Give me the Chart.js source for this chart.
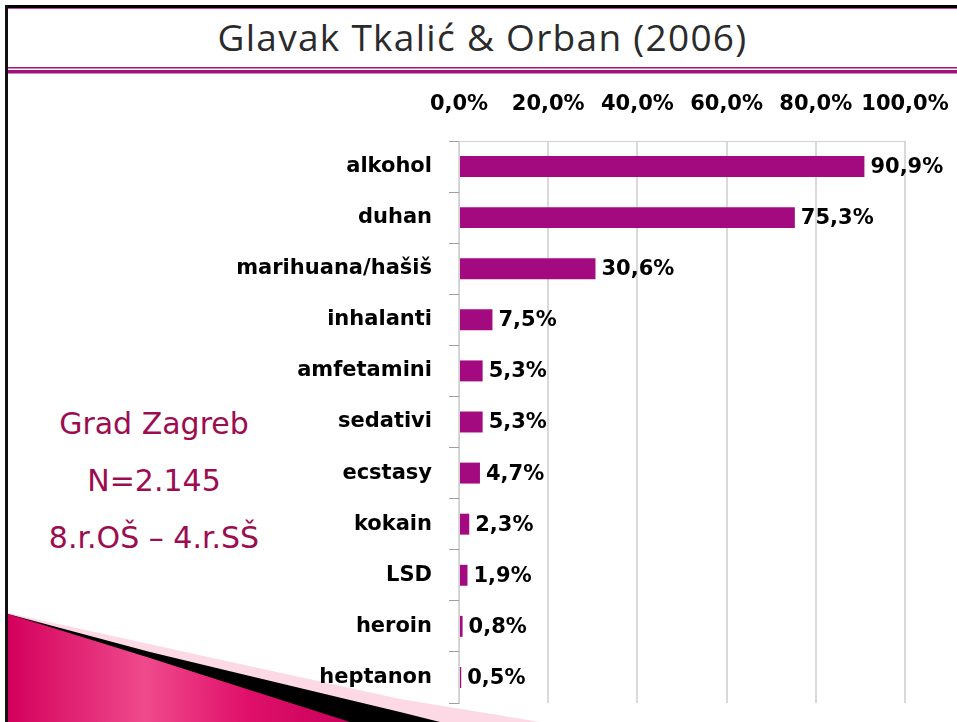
<!DOCTYPE html>
<html>
<head>
<meta charset="utf-8">
<script src="https://cdn.jsdelivr.net/npm/chart.js@4"></script>
<style>
  html, body { margin: 0; padding: 0; background: #fff; }
  #page { position: relative; width: 957px; height: 722px; overflow: hidden; background: #fff; }
  #deco { position: absolute; left: 0; top: 0; }
  #title {
    position: absolute; left: 8px; right: 0; top: 11px; text-align: center;
    font-family: "Open Sans", sans-serif; font-size: 37px; color: #2b2b2b; letter-spacing: 1.3px;
  }
  #side {
    position: absolute; left: 20px; width: 268px; top: 395px; text-align: center;
    font-family: "DejaVu Sans", sans-serif; font-size: 30px; color: #9c0c50; line-height: 57px;
  }
  #wrap { position: absolute; left: 0; top: 0; width: 957px; height: 722px; }
</style>
</head>
<body>
<div id="page">
  <svg id="deco" width="957" height="722">
    <defs>
      <linearGradient id="mag" x1="0" y1="0" x2="1" y2="0">
        <stop offset="0" stop-color="#d4005c"/>
        <stop offset="0.4" stop-color="#ef4a8c"/>
        <stop offset="0.7" stop-color="#e0106a"/>
        <stop offset="1" stop-color="#c8005a"/>
      </linearGradient>
    </defs>
    <rect x="5" y="5" width="952" height="3" fill="#000"/>
    <rect x="5" y="8" width="952" height="1" fill="#c040a0"/>
    <rect x="5" y="5" width="3" height="717" fill="#111"/>
    <rect x="8" y="67" width="949" height="1.5" fill="#a0107f"/>
    <rect x="8" y="70" width="949" height="3.5" fill="#a0107f"/>
    <polygon points="8,613 400,699 540,722 8,722" fill="#fcd9e4"/>
    <polygon points="8,614 150,652 400,712 440,722 8,722" fill="#000"/>
    <polygon points="8,614 150,658 350,722 8,722" fill="url(#mag)"/>
  </svg>
  <div id="title">Glavak Tkalić &amp; Orban (2006)</div>
  <div id="side">Grad Zagreb<br>N=2.145<br>8.r.OŠ – 4.r.SŠ</div>
  <div id="wrap"><canvas id="chart" width="957" height="722"></canvas></div>
</div>
<script>
const categories = ['alkohol', 'duhan', 'marihuana/hašiš', 'inhalanti', 'amfetamini', 'sedativi', 'ecstasy', 'kokain', 'LSD', 'heroin', 'heptanon'];
const percentages = [90.9, 75.3, 30.6, 7.5, 5.3, 5.3, 4.7, 2.3, 1.9, 0.8, 0.5];
const tick_values = [0, 20, 40, 60, 80, 100];

const bar_color = '#a30a80';
const label_font = { family: '"DejaVu Sans", sans-serif', size: 21, weight: 'bold' };

function fmt(v) {
  return v.toFixed(1).replace('.', ',') + '%';
}

// value labels at the end of each bar
const valueLabels = {
  id: 'valueLabels',
  afterDatasetsDraw(chart) {
    const c = chart.ctx;
    const meta = chart.getDatasetMeta(0);
    c.save();
    c.font = 'bold 21px "DejaVu Sans", sans-serif';
    c.fillStyle = '#000';
    c.textAlign = 'left';
    c.textBaseline = 'middle';
    meta.data.forEach((bar, i) => {
      c.fillText(fmt(percentages[i]), bar.x + 6, bar.y + 1);
    });
    c.restore();
  }
};

const ctx = document.getElementById('chart').getContext('2d');
const chart = new Chart(ctx, {
  type: 'bar',
  data: {
    labels: categories,
    datasets: [{
      data: percentages,
      backgroundColor: bar_color,
      categoryPercentage: 1,
      barPercentage: 0.41
    }]
  },
  options: {
    indexAxis: 'y',
    responsive: false,
    animation: false,
    layout: { padding: { left: 0, right: 52, top: 0, bottom: 19 } },
    plugins: { legend: { display: false }, tooltip: { enabled: false } },
    scales: {
      x: {
        position: 'top',
        min: 0, max: 100,
        afterBuildTicks(scale) { scale.ticks = tick_values.map(v => ({ value: v })); },
        afterFit(scale) {
          scale.height = 141;
          scale.paddingLeft = 0;
          scale.paddingRight = 0;
        },
        grid: { color: '#d9d9d9', lineWidth: 2, drawTicks: false },
        border: { color: '#d0d0d0', width: 1 },
        ticks: {
          color: '#000', font: label_font, padding: 24, maxRotation: 0, autoSkip: false,
          callback: v => fmt(v)
        }
      },
      y: {
        afterFit(scale) {
          scale.width = 459;
          scale.paddingTop = 0;
          scale.paddingBottom = 0;
        },
        grid: { drawOnChartArea: false, drawTicks: true, tickLength: 10, color: '#a0a0a0', offset: true },
        border: { color: '#d0d0d0', width: 1 },
        ticks: { color: '#000', font: label_font, padding: 17 }
      }
    }
  },
  plugins: [valueLabels]
});
</script>
</body>
</html>
